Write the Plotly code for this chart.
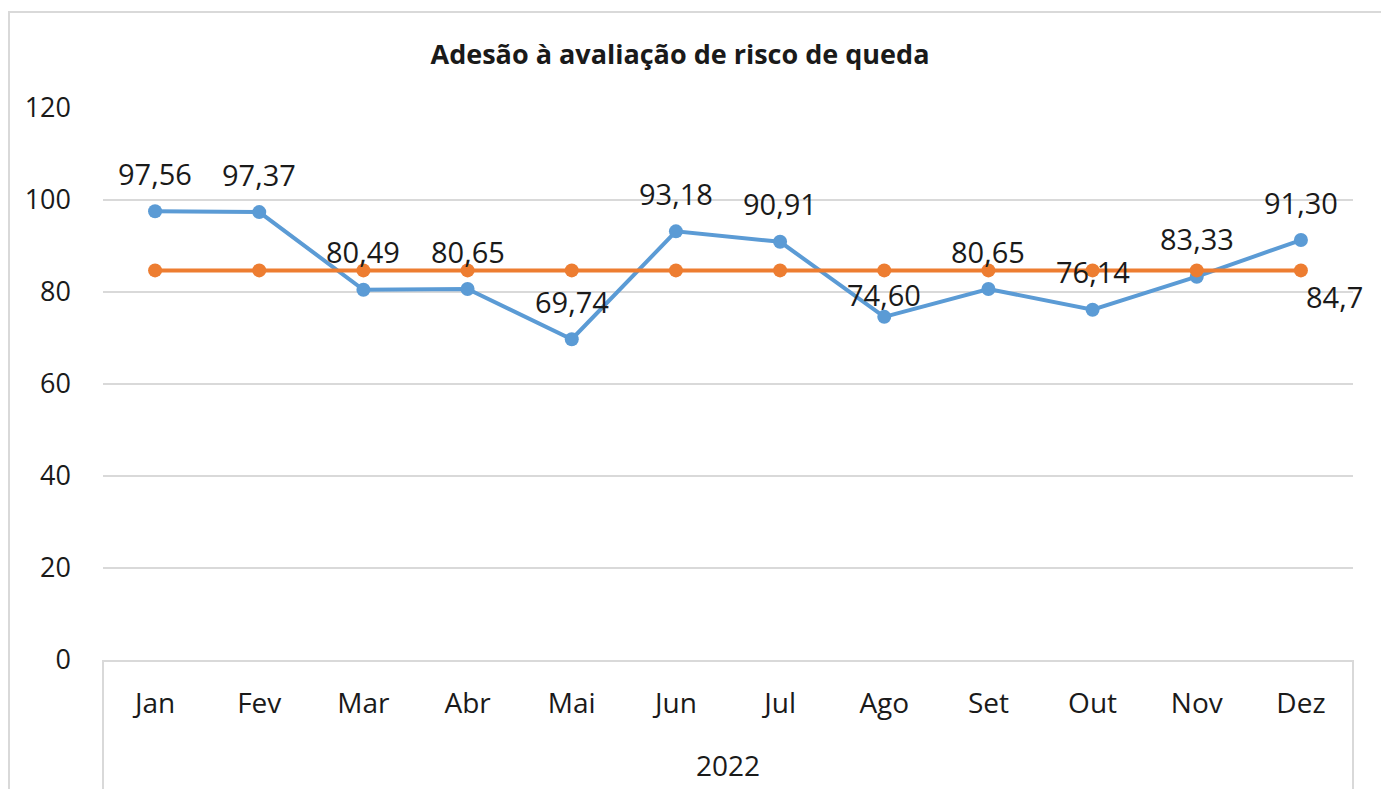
import plotly.graph_objects as go

months = ["Jan", "Fev", "Mar", "Abr", "Mai", "Jun", "Jul", "Ago", "Set", "Out", "Nov", "Dez"]
adesao = [97.56, 97.37, 80.49, 80.65, 69.74, 93.18, 90.91, 74.60, 80.65, 76.14, 83.33, 91.30]
meta_val = 84.7
meta = [meta_val] * len(months)
year_label = "2022"
title = "Adesão à avaliação de risco de queda"

BLUE = "#5B9BD5"
ORANGE = "#ED7D31"
FONT = "Open Sans"
GRID = "#D9D9D9"
TXT = "#1a1a1a"

# figure is placed at (8, 8) by the page body margin
W, H = 1381, 781
L, R, T, B = 95, 36, 100, 129
PW, PH = W - L - R, H - T - B

def fmt(v, d=2):
    return f"{v:.{d}f}".replace(".", ",")

fig = go.Figure()
fig.add_trace(go.Scatter(
    x=months, y=adesao, mode="lines+markers",
    line=dict(color=BLUE, width=4), marker=dict(color=BLUE, size=14),
    showlegend=False, cliponaxis=False,
))
fig.add_trace(go.Scatter(
    x=months, y=meta, mode="lines+markers",
    line=dict(color=ORANGE, width=4), marker=dict(color=ORANGE, size=14),
    showlegend=False, cliponaxis=False,
))

# data labels (blue above the points; Excel nudged the Ago label closer)
for i, (m, v) in enumerate(zip(months, adesao)):
    shift = 22 if m == "Ago" else 38
    fig.add_annotation(x=m, y=v, text=fmt(v), showarrow=False, yshift=shift,
                       font=dict(family=FONT, size=29, color=TXT))
fig.add_annotation(x=months[-1], y=meta[-1], text=fmt(meta_val, 1), showarrow=False,
                   xshift=34, yshift=-26, font=dict(family=FONT, size=29, color=TXT))

fig.update_layout(
    width=W, height=H,
    margin=dict(l=L, r=R, t=T, b=B),
    paper_bgcolor="white", plot_bgcolor="white",
    font=dict(family=FONT, size=27, color=TXT),
    title=dict(text="<b>" + title + "</b>", x=672/W, xanchor="center",
               y=1-47/H, yanchor="middle", xref="container", yref="container",
               font=dict(family=FONT, size=27, color=TXT)),
    xaxis=dict(type="category", range=[-0.5, len(months) - 0.5], showgrid=False,
               showline=True, linecolor=GRID, linewidth=2, ticks="",
               ticklabelstandoff=17,
               tickfont=dict(family=FONT, size=28, color=TXT)),
    yaxis=dict(range=[0, 120], dtick=20, showgrid=True, gridcolor=GRID, gridwidth=1.5,
               zeroline=False, showline=False, ticks="", ticklabelstandoff=31,
               tickfont=dict(family=FONT, size=27, color=TXT)),
)

# outer chart border
fig.add_shape(type="rect", xref="paper", yref="paper",
              x0=(1 - L)/PW, x1=(1374 - L)/PW, y0=-0.4, y1=(T + PH - 4)/PH,
              line=dict(color=GRID, width=2), layer="below")
# category-group box sides
for xp in (0, 1):
    fig.add_shape(type="line", xref="paper", yref="paper", x0=xp, x1=xp, y0=0, y1=-0.3,
                  line=dict(color=GRID, width=2))
fig.add_annotation(text=year_label, xref="paper", yref="paper", x=0.5, y=(660-765)/PH,
                   showarrow=False, yanchor="middle",
                   font=dict(family=FONT, size=28, color=TXT))

fig.write_html("out.html")
